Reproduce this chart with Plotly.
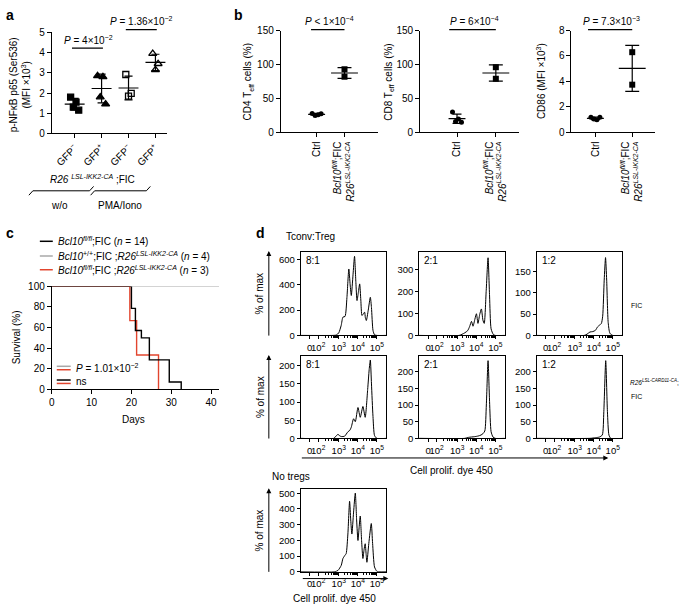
import numpy as np
import plotly.graph_objects as go

W, H = 685, 612
FONT = "Arial, Liberation Sans, Helvetica, sans-serif"
RED = "#e2452e"
GREY = "#a8a8a8"

# ---------------- data: panel a ----------------
a_ticklabels = ["GFP<sup>−</sup>", "GFP<sup>+</sup>", "GFP<sup>−</sup>", "GFP<sup>+</sup>"]
a_gfpneg_wo = [1.80, 1.55, 1.30, 1.15]
a_gfppos_wo = [2.85, 2.80, 1.80, 1.45]
a_gfpneg_pma = [2.92, 1.98, 1.85]
a_gfppos_pma = [3.95, 3.45, 3.15]
a_yticks = [0, 1, 2, 3, 4, 5]

# ---------------- data: panel b ----------------
b_ticklabels = ["Ctrl",
                "<i>Bcl10</i><sup><i>fl/fl</i></sup>;FIC<br><i>R26</i><sup><i>LSL-IKK2-CA</i></sup>"]
cd4_ctrl = [28.0, 26.0, 25.0, 27.5]
cd4_mut = [93.0, 82.0]
cd8_ctrl = [30.0, 20.0, 16.0, 15.0]
cd8_mut = [96.0, 79.0]
cd86_ctrl = [1.20, 1.00, 1.05, 1.20]
cd86_mut = [6.30, 3.75]

# ---------------- data: panel c (Kaplan-Meier) ----------------
km_black_days = [0, 20, 21, 22.5, 24.5, 29.5, 32.5]
km_black_surv = [100, 78.6, 57.1, 50.0, 28.6, 7.1, 0]
km_grey_days = [0, 42]
km_grey_surv = [100, 100]
km_red_days = [0, 19.6, 21.3, 26.8]
km_red_surv = [100, 66.7, 33.3, 0]

# ---------------- data: panel d (histograms, x in decades) ----------------
h_ticks = [1.47, 1.92, 3, 4, 5]
h_ticktext = ["0", "10<sup>2</sup>", "10<sup>3</sup>", "10<sup>4</sup>", "10<sup>5</sup>"]

h11_x = [1.0, 2.7, 2.87, 3.0, 3.13, 3.22, 3.33, 3.43, 3.53, 3.60, 3.66, 3.75, 3.83, 3.90, 3.96, 4.03,
         4.10, 4.16, 4.22, 4.29, 4.36, 4.40, 4.45, 4.55, 4.66, 4.72, 4.80, 4.88, 5.0, 5.5]
h11_y = [0, 0, 3, 20, 80, 145, 150, 300, 526, 400, 316, 480, 626, 420, 276, 340,
         408, 280, 158, 170, 184, 140, 118, 200, 302, 220, 40, 5, 0, 0]
h12_x = [1.0, 3.1, 3.25, 3.4, 3.55, 3.65, 3.75, 3.83, 3.93, 4.01, 4.09, 4.18, 4.27, 4.35, 4.42,
         4.52, 4.62, 4.70, 4.78, 4.9, 5.0, 5.5]
h12_y = [0, 0, 5, 12, 22, 40, 64, 42, 75, 99, 55, 95, 121, 70, 55,
         200, 355, 180, 30, 4, 0, 0]
h13_x = [1.0, 3.5, 3.65, 3.8, 3.95, 4.09, 4.2, 4.3, 4.4, 4.47, 4.55, 4.62, 4.68, 4.76, 4.85, 5.0, 5.5]
h13_y = [0, 0, 3, 8, 9, 12, 20, 24, 28, 45, 130, 183, 130, 30, 5, 0, 0]
h21_x = [1.0, 2.75, 2.85, 2.96, 3.05, 3.13, 3.31, 3.48, 3.58, 3.66, 3.78, 3.87, 4.01, 4.13, 4.27,
         4.39, 4.52, 4.60, 4.66, 4.72, 4.80, 4.88, 5.0, 5.5]
h21_y = [0, 0, 6, 11, 7, 5, 6, 18, 22, 31, 54, 46, 85, 58, 88,
         58, 135, 190, 216, 150, 60, 8, 0, 0]
h22_x = [1.0, 3.4, 3.6, 3.9, 4.1, 4.25, 4.35, 4.45, 4.53, 4.62, 4.70, 4.78, 4.88, 5.0, 5.5]
h22_y = [0, 0, 3, 5, 7, 10, 14, 22, 100, 233, 110, 20, 4, 0, 0]
h23_x = [1.0, 3.8, 4.1, 4.3, 4.45, 4.53, 4.63, 4.72, 4.80, 4.9, 5.5]
h23_y = [0, 0, 2, 4, 10, 80, 233, 80, 10, 0, 0]
h31_x = [1.0, 2.8, 2.96, 3.13, 3.22, 3.33, 3.39, 3.48, 3.57, 3.63, 3.69, 3.78, 3.87, 3.94, 4.01,
         4.07, 4.13, 4.20, 4.27, 4.33, 4.39, 4.44, 4.48, 4.58, 4.71, 4.78, 4.88, 5.0, 5.1, 5.5]
h31_y = [0, 0, 8, 40, 84, 105, 115, 240, 449, 330, 240, 380, 501, 330, 199,
         280, 355, 200, 84, 140, 178, 110, 60, 180, 307, 180, 30, 3, 0, 0]


def xd(a, b):
    return [a / W, b / W]


def yd(top, bottom):
    return [1 - bottom / H, 1 - top / H]


def px(x):
    return x / W


def py(y):
    return 1 - y / H


fig = go.Figure()
layout = dict(width=W, height=H, margin=dict(l=0, r=0, t=0, b=0),
              paper_bgcolor="white", plot_bgcolor="white", showlegend=False,
              font=dict(family=FONT, color="black", size=10))

base_ax = dict(showline=True, linecolor="black", linewidth=1, ticks="outside", ticklen=4,
               tickwidth=1, tickcolor="black", showgrid=False, zeroline=False,
               tickfont=dict(size=10, family=FONT, color="black"), fixedrange=True)

annotations = []
shapes = []


def add_text(x, y, text, size=10, xanchor="center", yanchor="middle", angle=0, **kw):
    annotations.append(dict(x=px(x), y=py(y), xref="paper", yref="paper", text=text,
                            showarrow=False, xanchor=xanchor, yanchor=yanchor, textangle=angle,
                            font=dict(size=size, family=FONT, color="black"), **kw))


def mean_sd(xc, vals, xa, ya, hw, cw, lw=1.2):
    m = float(np.mean(vals))
    s = float(np.std(vals, ddof=1))
    xs = [xc - hw, xc + hw, None, xc, xc, None, xc - cw, xc + cw, None, xc - cw, xc + cw]
    ys = [m, m, None, m - s, m + s, None, m + s, m + s, None, m - s, m - s]
    fig.add_trace(go.Scatter(x=xs, y=ys, mode="lines", line=dict(color="black", width=lw),
                             xaxis=xa, yaxis=ya, hoverinfo="skip", cliponaxis=False))


def jitter(n, step):
    pattern = [-1.5, 0.5, -0.5, 1.5]
    return [pattern[i % 4] * step for i in range(n)] if n > 3 else [-step, step, 0][:n]


# ================= Panel a =================
layout["xaxis"] = dict(base_ax, domain=xd(49, 165), range=[0.15, 4.44], anchor="y",
                       tickvals=[1, 2, 3, 4], ticktext=a_ticklabels, tickangle=-45)
layout["yaxis"] = dict(base_ax, domain=yd(27, 130), range=[0, 5], anchor="x", tickvals=a_yticks)
a_sets = [(a_gfpneg_wo, "square", 6),
          (a_gfppos_wo, "triangle-up", 7),
          (a_gfpneg_pma, "square-open", 6),
          (a_gfppos_pma, "triangle-up-open", 7)]
for i, (vals, sym, sz) in enumerate(a_sets):
    xc = i + 1
    xs = [xc + j for j in jitter(len(vals), 0.1)]
    fig.add_trace(go.Scatter(x=xs, y=vals, mode="markers", xaxis="x", yaxis="y",
                             marker=dict(symbol=sym, size=sz, color="black",
                                         line=dict(color="black", width=1.3)),
                             cliponaxis=False, hoverinfo="skip"))
    mean_sd(xc, vals, "x", "y", hw=0.37, cw=0.15)

# P bars panel a
for (x0, x1, ybar, ytxt, txt) in [(1, 2, 43, 35, "<i>P</i> = 4×10<sup>−2</sup>"),
                                  (3, 4, 24, 15, "<i>P</i> = 1.36×10<sup>−2</sup>")]:
    shapes.append(dict(type="line", xref="x", yref="paper", x0=x0 - 0.1, x1=x1 + 0.05,
                       y0=py(ybar), y1=py(ybar), line=dict(color="black", width=1.2)))
    annotations.append(dict(x=(x0 + x1) / 2, y=py(ytxt), xref="x", yref="paper", text=txt,
                            showarrow=False, xanchor="center", yanchor="middle",
                            font=dict(size=10, family=FONT, color="black")))

add_text(18, 80, "p-NFκB p65 (Ser536)<br>(MFI ×10<sup>3</sup>)", angle=-90)
add_text(90, 176, "<i>R26</i> <sup><i>LSL-IKK2-CA</i></sup> ;FIC")
# brackets
shapes.append(dict(type="path", xref="paper", yref="paper", line=dict(color="black", width=1),
                   path=f"M {px(26)} {py(193)} L {px(30)} {py(188.5)} L {px(87)} {py(188.5)} L {px(91)} {py(184)}"))
shapes.append(dict(type="path", xref="paper", yref="paper", line=dict(color="black", width=1),
                   path=f"M {px(88)} {py(193)} L {px(92)} {py(188.5)} L {px(144)} {py(188.5)} L {px(148)} {py(184)}"))
add_text(57, 203, "w/o")
add_text(118, 203, "PMA/Iono")

# ================= Panel b =================
b_specs = [
    ("x2", "y2", (279, 377), (315, 343), [0, 150], [0, 50, 100, 150], cd4_ctrl, cd4_mut,
     "CD4 T<sub>eff</sub> cells (%)", 247, "<i>P</i> < 1×10<sup>−4</sup>"),
    ("x3", "y3", (419, 518), (456, 495), [0, 150], [0, 50, 100, 150], cd8_ctrl, cd8_mut,
     "CD8 T<sub>eff</sub> cells (%)", 388, "<i>P</i> = 6×10<sup>−4</sup>"),
    ("x4", "y4", (571, 655), (595, 632), [0, 8], [0, 2, 4, 6, 8], cd86_ctrl, cd86_mut,
     "CD86 (MFI ×10<sup>3</sup>)", 541, "<i>P</i> = 7.3×10<sup>−3</sup>"),
]
for (xa, ya, (ax0, ax1), (c1, c2), yr, yt, ctrl, mut, title, tx, ptxt) in b_specs:
    ppu = (c2 - c1)
    lo = 1 - (c1 - ax0) / ppu
    hi = 2 + (ax1 - c2) / ppu
    layout["xaxis" + xa[1:]] = dict(base_ax, domain=xd(ax0, ax1), range=[lo, hi], anchor=ya,
                                    tickvals=[1, 2], ticktext=b_ticklabels, tickangle=-90)
    layout["yaxis" + ya[1:]] = dict(base_ax, domain=yd(25, 129), range=yr, anchor=xa, tickvals=yt)
    fig.add_trace(go.Scatter(x=[1 + j for j in jitter(len(ctrl), 3.0 / ppu)], y=ctrl, mode="markers",
                             xaxis=xa, yaxis=ya, marker=dict(symbol="circle", size=5, color="black"),
                             cliponaxis=False, hoverinfo="skip"))
    fig.add_trace(go.Scatter(x=[2] * len(mut), y=mut, mode="markers", xaxis=xa, yaxis=ya,
                             marker=dict(symbol="square", size=6, color="black"),
                             cliponaxis=False, hoverinfo="skip"))
    mean_sd(1, ctrl, xa, ya, hw=8.5 / ppu, cw=4.5 / ppu)
    mean_sd(2, mut, xa, ya, hw=13.5 / ppu, cw=7.0 / ppu)
    shapes.append(dict(type="line", xref=xa, yref="paper", x0=0.8, x1=2.0, y0=py(24), y1=py(24),
                       line=dict(color="black", width=1.2)))
    annotations.append(dict(x=1.45, y=py(15), xref=xa, yref="paper", text=ptxt, showarrow=False,
                            xanchor="center", yanchor="middle",
                            font=dict(size=10, family=FONT, color="black")))
    add_text(tx, 77, title, angle=-90)

# ================= Panel c =================
layout["xaxis5"] = dict(base_ax, domain=xd(49, 217), range=[0, 42], anchor="y5",
                        tickvals=[0, 10, 20, 30, 40])
layout["yaxis5"] = dict(base_ax, domain=yd(286, 391), range=[0, 100], anchor="x5",
                        tickvals=[0, 20, 40, 60, 80, 100])
for dx, dy, col in [(km_grey_days, km_grey_surv, GREY), (km_red_days, km_red_surv, RED),
                    (km_black_days, km_black_surv, "black")]:
    fig.add_trace(go.Scatter(x=dx, y=dy, mode="lines", line=dict(color=col, width=1.4, shape="hv"),
                             xaxis="x5", yaxis="y5", cliponaxis=False, hoverinfo="skip"))
add_text(13, 338, "Survival (%)", angle=-90)
add_text(131, 422, "Days")
leg = [(240, "black", "<i>Bcl10</i><sup><i>fl/fl</i></sup>;FIC (<i>n</i> = 14)"),
       (255, GREY, "<i>Bcl10</i><sup>+/+</sup>;FIC ;<i>R26</i><sup><i>LSL-IKK2-CA</i></sup> (<i>n</i> = 4)"),
       (269, RED, "<i>Bcl10</i><sup><i>fl/fl</i></sup>;FIC ;<i>R26</i><sup><i>LSL-IKK2-CA</i></sup> (<i>n</i> = 3)")]
for yy, col, txt in leg:
    shapes.append(dict(type="line", xref="paper", yref="paper", x0=px(37), x1=px(50), y0=py(yy), y1=py(yy),
                       line=dict(color=col, width=1.5)))
    add_text(53, yy, txt, xanchor="left")
for yy, col in [(367.5, GREY), (371, RED), (381.5, "black"), (385, RED)]:
    shapes.append(dict(type="line", xref="paper", yref="paper", x0=px(54), x1=px(68), y0=py(yy), y1=py(yy),
                       line=dict(color=col, width=1.5)))
add_text(71, 369, "<i>P</i> = 1.01×10<sup>−2</sup>", xanchor="left")
add_text(71, 383, "ns", xanchor="left")

# ================= Panel d =================
box_ax = dict(showline=True, mirror=True, linecolor="black", linewidth=1, ticks="outside", ticklen=3,
              tickwidth=1, tickcolor="black", showgrid=False, zeroline=False, fixedrange=True,
              tickfont=dict(size=9.5, family=FONT, color="black"))
minor_vals = [d + np.log10(k) for d in (2, 3, 4) for k in range(2, 10)]
hists = [
    (6, (299, 385), (251, 336), 660, [0, 200, 400, 600], h11_x, h11_y, "8:1"),
    (7, (418, 504), (251, 336), 381, [0, 100, 200, 300], h12_x, h12_y, "2:1"),
    (8, (536, 622), (251, 336), 196, [0, 50, 100, 150], h13_x, h13_y, "1:2"),
    (9, (299, 385), (357, 441), 227, [0, 50, 100, 150, 200], h21_x, h21_y, "8:1"),
    (10, (418, 504), (357, 441), 247, [0, 50, 100, 150, 200], h22_x, h22_y, "2:1"),
    (11, (536, 622), (357, 441), 247, [0, 50, 100, 150, 200], h23_x, h23_y, "1:2"),
    (12, (299, 385), (493, 577), 525, [0, 100, 200, 300, 400, 500], h31_x, h31_y, None),
]
for n, (x0, x1), (t, b), ymax, yt, hx, hy, lab in hists:
    layout[f"xaxis{n}"] = dict(box_ax, domain=xd(x0, x1), range=[1.0, 5.5], anchor=f"y{n}",
                               tickvals=h_ticks, ticktext=h_ticktext, tickangle=0,
                               minor=dict(tickmode="array", tickvals=minor_vals, ticklen=2,
                                          ticks="outside", tickcolor="black"))
    layout[f"yaxis{n}"] = dict(box_ax, domain=yd(t, b), range=[0, ymax], anchor=f"x{n}", tickvals=yt)
    fig.add_trace(go.Scatter(x=hx, y=hy, mode="lines",
                             line=dict(color="black", width=1, shape="spline", smoothing=0.6),
                             xaxis=f"x{n}", yaxis=f"y{n}", hoverinfo="skip"))
    if lab:
        add_text(x0 + 3, t + 9, lab, xanchor="left")


def arrow(tipx, tipy, tailx, taily):
    annotations.append(dict(x=px(tipx), y=py(tipy), xref="paper", yref="paper", text="",
                            showarrow=True, arrowhead=2, arrowsize=1, arrowwidth=1, arrowcolor="black",
                            ax=tailx - tipx, ay=taily - tipy, axref="pixel", ayref="pixel"))


for (t, b) in [(251, 336), (357, 441), (493, 577)]:
    arrow(267, t - 1, 267, b)
    add_text(258, (t + b) / 2, "% of max", angle=-90)
arrow(608, 461, 300, 461)
arrow(387, 584, 300, 584)
add_text(450, 474, "Cell prolif. dye 450")
add_text(333, 604, "Cell prolif. dye 450")
add_text(282, 235, "Tconv:Treg", xanchor="left")
add_text(268, 480, "No tregs", xanchor="left")
add_text(629, 305, "FIC", size=7, xanchor="left")
add_text(628, 384, "<i>R26</i><sup><i>LSL-CARD11-CA</i></sup>;", size=6.5, xanchor="left")
add_text(629, 398, "FIC", size=7, xanchor="left")

# panel letters
for x, y, l in [(7, 9, "a"), (237, 9, "b"), (7, 232, "c"), (259, 232, "d")]:
    annotations.append(dict(x=px(x), y=py(y), xref="paper", yref="paper", text=f"<b>{l}</b>",
                            showarrow=False, xanchor="center", yanchor="middle",
                            font=dict(size=14, family=FONT, color="black")))

layout["annotations"] = annotations
layout["shapes"] = shapes
fig.update_layout(**layout)
fig.write_html("out.html", config={"displayModeBar": False, "staticPlot": True},
               post_script="document.body.style.margin='0px';document.body.style.padding='0px';")
